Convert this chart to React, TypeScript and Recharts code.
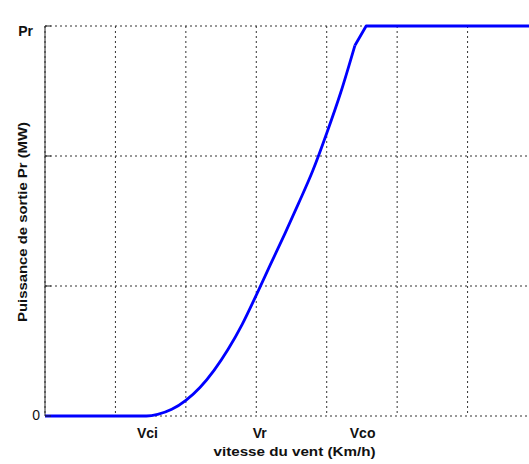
import React from "react";
import { LineChart, Line, XAxis, YAxis, CartesianGrid, Label } from "recharts";

// Wind speed (grid units) and normalized power (0 .. Pr)
const windSpeed = [0, 1.44, 1.6, 1.8, 2.0, 2.2, 2.4, 2.6, 2.8, 3.0, 3.2, 3.4, 3.6, 3.8, 4.0, 4.2, 4.4, 4.56, 7];
const power = [0, 0, 0.004, 0.017, 0.04, 0.073, 0.117, 0.171, 0.235, 0.31, 0.388, 0.465, 0.545, 0.628, 0.725, 0.83, 0.95, 1.0, 1.0];
// index where the smooth rising part ends and the straight saturation part begins
const kneeIndex = 16;

const gridTicks = [0, 1, 2, 3, 4, 5, 6, 7];
const yTicks = [0, 1 / 3, 2 / 3, 1];
const yTickNames = ["0", "", "", "Pr"];
const xLabelPositions = [1.454, 3.05, 4.51];
const xLabelNames = ["Vci", "Vr", "Vco"];

const title = "Courbe de puissance (Km/h)";
const xTitle = "vitesse du vent (Km/h)";
const yTitle = "Puissance de sortie Pr (MW)";

const data = windSpeed.map((v, i) => ({
  v,
  rise: i <= kneeIndex ? power[i] : null,
  top: i >= kneeIndex ? power[i] : null,
}));

const FONT = "'Liberation Sans', Arial, Helvetica, sans-serif";
const AXIS = "#222";

const TopTick = (props: any) => {
  const { x, y } = props;
  return <line x1={x} x2={x} y1={y} y2={y + 6} stroke={AXIS} strokeWidth={1} />;
};

const BottomTick = (props: any) => {
  const { x, y } = props;
  return <line x1={x} x2={x} y1={y} y2={y - 6} stroke={AXIS} strokeWidth={1} />;
};

const LabelTick = (props: any) => {
  const { x, y, index } = props;
  return (
    <text x={x} y={y + 17} textAnchor="middle" dominantBaseline="central" fontFamily={FONT} fontWeight="bold" fontSize={14} fill="#111">
      {xLabelNames[index]}
    </text>
  );
};

const YTick = (props: any) => {
  const { x, y, index } = props;
  const name = yTickNames[index];
  return (
    <g>
      <line x1={x} x2={x + 6} y1={y} y2={y} stroke={AXIS} strokeWidth={1} />
      {name === "Pr" && (
        <text x={x - 12} y={y + 5} textAnchor="end" dominantBaseline="central" fontFamily={FONT} fontWeight="bold" fontSize={14} fill="#111">
          {name}
        </text>
      )}
      {name === "0" && (
        <text x={x - 5} y={y - 1} textAnchor="end" dominantBaseline="central" fontFamily={FONT} fontSize={14} fill="#111">
          {name}
        </text>
      )}
    </g>
  );
};

const TitleContent = (props: any) => {
  const vb = props.viewBox || {};
  return (
    <text x={vb.x + vb.width / 2} y={13} textAnchor="middle" dominantBaseline="central" fontFamily={FONT} fontWeight="bold" fontSize={13} fill="#111" textLength={203} lengthAdjust="spacingAndGlyphs">
      {title}
    </text>
  );
};

const XTitleContent = (props: any) => {
  const vb = props.viewBox || {};
  return (
    <text x={vb.x + vb.width / 2 + 3} y={vb.y + 35} textAnchor="middle" dominantBaseline="central" fontFamily={FONT} fontWeight="bold" fontSize={13} fill="#111" textLength={162} lengthAdjust="spacingAndGlyphs">
      {xTitle}
    </text>
  );
};

const YTitleContent = (props: any) => {
  const vb = props.viewBox || {};
  const cx = 22;
  const cy = vb.y + vb.height / 2 + 1;
  return (
    <text x={cx} y={cy} transform={`rotate(-90 ${cx} ${cy})`} textAnchor="middle" dominantBaseline="central" fontFamily={FONT} fontWeight="bold" fontSize={13} fill="#111" textLength={200} lengthAdjust="spacingAndGlyphs">
      {yTitle}
    </text>
  );
};

export default function App() {
  return (
    <div style={{ position: "absolute", left: 0, top: 0, width: 529, height: 464, overflow: "hidden", background: "#fff" }}>
      <LineChart width={545} height={464} data={data} margin={{ top: 26, right: 7, bottom: 0, left: 0 }}>
        <CartesianGrid xAxisId="grid" yAxisId="left" stroke="#333" strokeDasharray="2 3" strokeWidth={1} />
        <XAxis
          xAxisId="top"
          orientation="top"
          type="number"
          dataKey="v"
          domain={[0, 7]}
          ticks={gridTicks}
          interval={0}
          height={0}
          tickSize={0}
          tickMargin={0}
          tickLine={false}
          axisLine={{ stroke: AXIS, strokeWidth: 1 }}
          tick={<TopTick />}
        >
          <Label content={<TitleContent />} />
        </XAxis>
        <XAxis
          xAxisId="grid"
          orientation="bottom"
          type="number"
          dataKey="v"
          domain={[0, 7]}
          ticks={gridTicks}
          interval={0}
          height={0}
          tickSize={0}
          tickMargin={0}
          tickLine={false}
          axisLine={{ stroke: AXIS, strokeWidth: 1 }}
          tick={<BottomTick />}
        />
        <XAxis
          xAxisId="lbl"
          orientation="bottom"
          type="number"
          dataKey="v"
          domain={[0, 7]}
          ticks={xLabelPositions}
          interval={0}
          height={48}
          tickSize={0}
          tickMargin={0}
          tickLine={false}
          axisLine={false}
          tick={<LabelTick />}
        >
          <Label content={<XTitleContent />} />
        </XAxis>
        <YAxis
          yAxisId="left"
          type="number"
          domain={[0, 1]}
          ticks={yTicks}
          interval={0}
          width={45}
          tickSize={0}
          tickMargin={0}
          tickLine={false}
          axisLine={{ stroke: AXIS, strokeWidth: 1 }}
          tick={<YTick />}
        >
          <Label content={<YTitleContent />} />
        </YAxis>
        <Line
          xAxisId="grid"
          yAxisId="left"
          type="monotone"
          dataKey="rise"
          stroke="#0000ff"
          strokeWidth={2.8}
          dot={false}
          connectNulls={false}
          isAnimationActive={false}
        />
        <Line
          xAxisId="grid"
          yAxisId="left"
          type="linear"
          dataKey="top"
          stroke="#0000ff"
          strokeWidth={2.8}
          strokeLinejoin="round"
          dot={false}
          connectNulls={false}
          isAnimationActive={false}
        />
      </LineChart>
    </div>
  );
}
